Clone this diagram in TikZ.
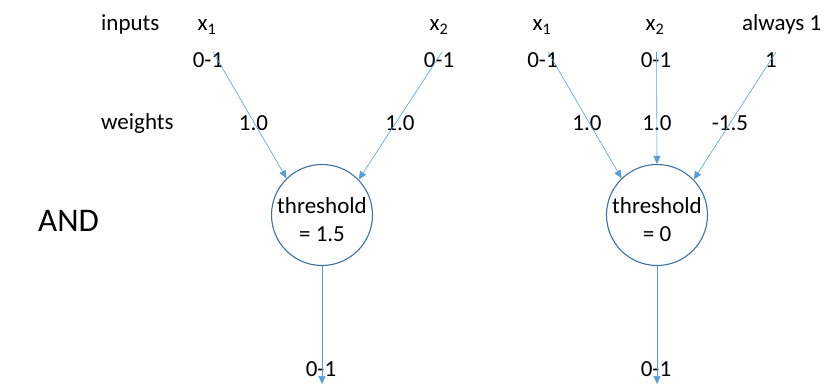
\documentclass[tikz,border=0pt]{standalone}
\usepackage{fontspec}
\setmainfont{Carlito}
\usetikzlibrary{arrows.meta}
\definecolor{linkblue}{HTML}{5B9BD5}
\definecolor{ringblue}{HTML}{41719C}
\tikzset{
  lbl/.style={inner sep=0pt, anchor=base, font=\fontsize{23}{27}\selectfont},
  bigl/.style={inner sep=0pt, anchor=base west, font=\fontsize{33}{38}\selectfont},
  unit/.style={circle, draw=ringblue, line width=1.1pt, minimum size=101pt, inner sep=0pt},
  link/.style={draw=linkblue, line width=0.6pt, -{Triangle[length=8pt,width=7pt]}},
}
\begin{document}
\begin{tikzpicture}[x=1pt,y=-1pt]
\useasboundingbox (0,0) rectangle (823,385);
% row labels
\node[lbl, anchor=base west] (inputs) at (101,31) {inputs};
\node[lbl, anchor=base west] (weights) at (101,130) {weights};
\node[bigl] (and) at (38,232) {AND};
% left unit
\node[unit] (c1) at (322,215) {};
\node[lbl] (t1a) at (322,214) {threshold};
\node[lbl] (t1b) at (322,242) {= 1.5};
\node[lbl] (lx1) at (207,31) {x\textsubscript{1}};
\node[lbl] (lx2) at (439,31) {x\textsubscript{2}};
\node[lbl] (li1) at (208,68) {0-1};
\node[lbl] (li2) at (439,68) {0-1};
\node[lbl] (lw1) at (253.5,131) {1.0};
\node[lbl] (lw2) at (400,131) {1.0};
\node[lbl] (lo) at (321,376) {0-1};
\coordinate (ls1) at (213,52);
\coordinate (ls2) at (442,52);
\coordinate (lend) at (322,384);
\draw[link] (ls1) -- (c1.134);
\draw[link] (ls2) -- (c1.44);
\draw[link] (c1.south) -- (lend);
% right unit
\node[unit] (c2) at (657,215) {};
\node[lbl] (t2a) at (657,214) {threshold};
\node[lbl] (t2b) at (657,242) {= 0};
\node[lbl] (rx1) at (542,31) {x\textsubscript{1}};
\node[lbl] (rx2) at (655,31) {x\textsubscript{2}};
\node[lbl, anchor=base west] (ra) at (742,31) {always 1};
\node[lbl] (ri1) at (542.5,68) {0-1};
\node[lbl] (ri2) at (656,68) {0-1};
\node[lbl] (ri3) at (771,68) {1};
\node[lbl] (rw1) at (587,131) {1.0};
\node[lbl] (rw2) at (657,131) {1.0};
\node[lbl] (rw3) at (730,131) {-1.5};
\node[lbl] (ro) at (656,376) {0-1};
\coordinate (rs1) at (548,52);
\coordinate (rs2) at (656.5,52);
\coordinate (rs3) at (776,52);
\coordinate (rend) at (657,384);
\draw[link] (rs1) -- (c2.134);
\draw[link] (rs2) -- (c2.north);
\draw[link] (rs3) -- (c2.44);
\draw[link] (c2.south) -- (rend);
\end{tikzpicture}
\end{document}
